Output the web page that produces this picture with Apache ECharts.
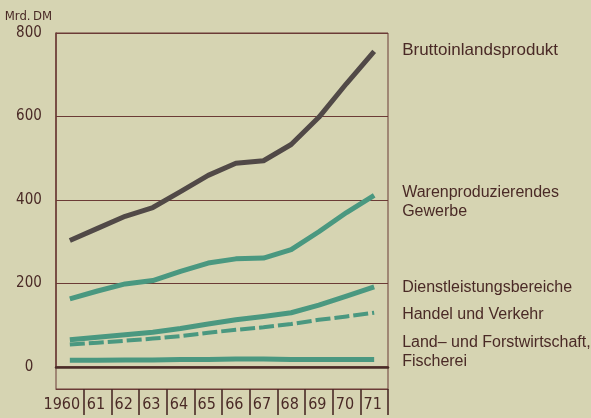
<!DOCTYPE html>
<html><head><meta charset="utf-8">
<script src="https://cdn.jsdelivr.net/npm/echarts@6/dist/echarts.min.js"></script>
<style>html,body{margin:0;padding:0;background:#d6d4b2;}#c{width:591px;height:418px;}</style>
</head><body><div id="c"></div>
<script>
const years = ['1960','61','62','63','64','65','66','67','68','69','70','71'];
const yTicks = [0, 200, 400, 600, 800];
const bip = [303, 332, 361, 382, 420, 459, 488, 494, 533, 598, 679, 756];
const waren = [163, 182, 199, 207, 229, 249, 259, 261, 281, 324, 370, 411];
const dienst = [65, 71, 77, 83, 92, 103, 113, 121, 130, 148, 170, 192];
const handel = [54, 58, 63, 68, 74, 82, 89, 95, 103, 113, 121, 130];
const land = [16, 16, 17, 17, 18, 18, 19, 19, 18, 18, 18, 18];
const names = ['Bruttoinlandsprodukt', 'Warenproduzierendes\nGewerbe', 'Dienstleistungsbereiche', 'Handel und Verkehr', 'Land\u2013 und Forstwirtschaft,\nFischerei'];

const BG = '#d6d4b2', GREEN = '#4a9880', DARK = '#514947', LINE = '#6b3b36', TXT = '#4a2a26';
const NARROW = '"Liberation Sans Narrow","DejaVu Sans Condensed",sans-serif';
const SANS = '"Liberation Sans","DejaVu Sans",sans-serif';

function mk(name, data, color, width, dash, fs, dy) {
  return {
    type: 'line', name: name, data: data, xAxisIndex: 0, yAxisIndex: 0,
    symbol: 'none', silent: true, z: dash ? 3 : 4,
    lineStyle: { color: color, width: width, type: dash || 'solid', cap: 'butt', join: 'round' },
    endLabel: { show: true, formatter: name, color: TXT, fontFamily: SANS, fontSize: fs,
      lineHeight: 19, distance: 28, offset: [0, dy], align: 'left' }
  };
}

const chart = echarts.init(document.getElementById('c'), null, { renderer: 'canvas' });
chart.setOption({
  backgroundColor: BG,
  animation: false,
  grid: [
    { left: 56, right: 203, top: 33, bottom: 51, containLabel: false, outerBoundsMode: 'none',
      show: true, borderColor: LINE, borderWidth: 1, backgroundColor: 'transparent' },
    { left: 56, right: 203, top: 367, bottom: 29, containLabel: false, outerBoundsMode: 'none',
      show: true, borderColor: LINE, borderWidth: 1, backgroundColor: 'transparent' }
  ],
  xAxis: [
    { type: 'category', gridIndex: 0, data: years, boundaryGap: true,
      axisLine: { show: true, lineStyle: { color: '#4a2c28', width: 2.5 } },
      axisTick: { show: false }, axisLabel: { show: false }, splitLine: { show: false } },
    { type: 'category', gridIndex: 1, data: years, boundaryGap: true, position: 'bottom',
      axisLine: { show: true, lineStyle: { color: LINE, width: 1 } },
      axisTick: { show: true, length: 26, interval: function (i) { return i !== 0; }, alignWithLabel: false,
        lineStyle: { color: '#4a2a26', width: 1.6 } },
      axisLabel: { show: true, interval: 0, margin: 3, hideOverlap: false,
        formatter: function (v, i) { return i === 0 ? '{b|' + v + '}{p|}' : '{b|' + v + '}{q|}'; },
        rich: {
          p: { width: 16, lineHeight: 26 },
          b: { fontFamily: NARROW, fontSize: 16, color: TXT, lineHeight: 26 },
          q: { width: 3, lineHeight: 26 }
        } },
      splitLine: { show: false } }
  ],
  yAxis: [
    { type: 'value', gridIndex: 0, min: yTicks[0], max: yTicks[yTicks.length - 1], interval: 200,
      name: 'Mrd.\u2009DM', nameLocation: 'end', nameGap: 10,
      nameTextStyle: { fontFamily: NARROW, fontSize: 13, color: TXT, align: 'right', padding: [0, 4, 0, 0] },
      axisLine: { show: true, lineStyle: { color: LINE, width: 1.5 } },
      axisTick: { show: false },
      axisLabel: { fontFamily: NARROW, fontSize: 15, color: TXT, align: 'center', margin: 27 },
      splitLine: { show: true, lineStyle: { color: LINE, width: 1 } } },
    { type: 'value', gridIndex: 1, min: 0, max: 1, show: false }
  ],
  series: [
    mk(names[0], bip, DARK, 5, null, 17, -1),
    mk(names[1], waren, GREEN, 5, null, 16, 7),
    mk(names[2], dienst, GREEN, 5, null, 16, 1),
    mk(names[3], handel, GREEN, 4, [15, 4], 16, 2),
    mk(names[4], land, GREEN, 5, null, 16, -7)
  ]
});
</script></body></html>
